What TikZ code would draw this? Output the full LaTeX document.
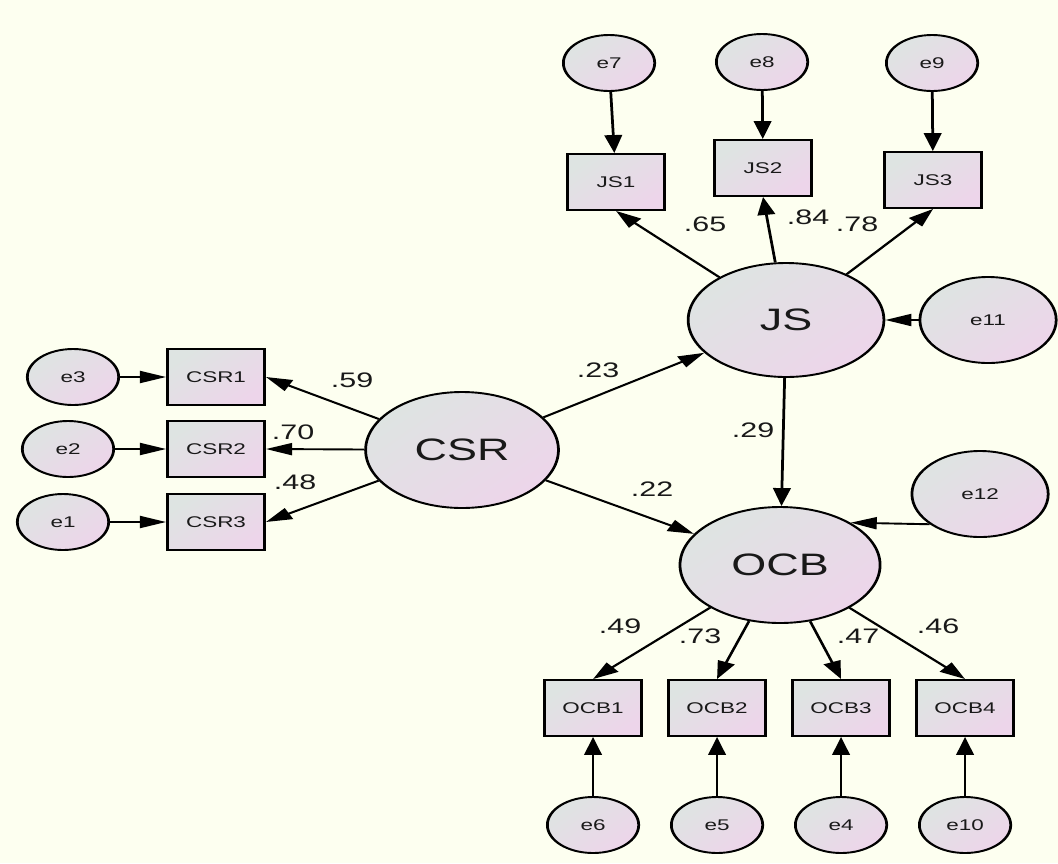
\documentclass[tikz,border=0pt]{standalone}
\usepackage{fontspec}
\setmainfont{Liberation Sans}
\usetikzlibrary{arrows.meta,shapes.geometric}
\definecolor{paper}{RGB}{253,255,240}
\definecolor{shadeA}{RGB}{222,228,226}
\definecolor{shadeB}{RGB}{237,213,234}
\definecolor{ink}{RGB}{25,25,25}
\begin{document}
\begin{tikzpicture}[x=1pt, y=-1pt, line width=1.9pt, >={Triangle[length=18pt,width=12pt]},
  shaded/.style = {draw, top color=shadeA, bottom color=shadeB, shading angle=45, text=ink, inner sep=0pt},
  err/.style = {shaded, ellipse, minimum width=63pt, minimum height=56pt, font=\fontsize{15.5}{16}\selectfont},
  bigerr/.style = {err, minimum width=94pt, minimum height=86pt},
  obs/.style = {shaded, rectangle, minimum width=67pt, minimum height=56pt, font=\fontsize{15.5}{16}\selectfont},
  lat/.style = {shaded, ellipse, minimum width=133pt, minimum height=116pt, font=\fontsize{31}{32}\selectfont},
  num/.style = {text=ink, inner sep=0pt, font=\fontsize{21}{22}\selectfont}]
\fill[paper] (0,0) rectangle (1058,863);
\useasboundingbox (0,0) rectangle (1058,863);
\begin{scope}[transform canvas={xscale=1.45}, x=0.6897pt]
% latent variables
\node[lat] (CSR) at (462,450) {CSR};
\node[lat, minimum width=135pt, minimum height=114pt] (JS) at (786,320) {JS};
\node[lat, minimum width=138pt] (OCB) at (780,565) {OCB};
% indicators
\node[obs] (CSR1) at (216,377) {CSR1};
\node[obs] (CSR2) at (216,449) {CSR2};
\node[obs] (CSR3) at (216,522) {CSR3};
\node[obs] (JS1) at (616,182) {JS1};
\node[obs] (JS2) at (763,168) {JS2};
\node[obs] (JS3) at (933,180) {JS3};
\node[obs] (OCB1) at (593,708) {OCB1};
\node[obs] (OCB2) at (717,708) {OCB2};
\node[obs] (OCB3) at (841,708) {OCB3};
\node[obs] (OCB4) at (965,708) {OCB4};
% errors
\node[err] (e3) at (73,377) {e3};
\node[err] (e2) at (68,449) {e2};
\node[err] (e1) at (63,522) {e1};
\node[err] (e7) at (609,63) {e7};
\node[err] (e8) at (762,62) {e8};
\node[err] (e9) at (932,63) {e9};
\node[err] (e6) at (593,825) {e6};
\node[err] (e5) at (717,825) {e5};
\node[err] (e4) at (841,825) {e4};
\node[err] (e10) at (965,825) {e10};
\node[bigerr] (e11) at (988,320) {e11};
\node[bigerr] (e12) at (980,494) {e12};
% paths
\draw[->] (CSR) -- (CSR1.east);
\draw[->] (CSR) -- (CSR2.east);
\draw[->] (CSR) -- (CSR3.east);
\draw[->] (e3) -- (CSR1);
\draw[->] (e2) -- (CSR2);
\draw[->] (e1) -- (CSR3);
\draw[->] (JS) -- (JS1.south);
\draw[->] (JS) -- (JS2.south);
\draw[->] (JS) -- (JS3.south);
\draw[->] (e7) -- (JS1);
\draw[->] (e8) -- (JS2);
\draw[->] (e9) -- (JS3);
\draw[->] (e11) -- (JS);
\draw[->] (CSR) -- (JS);
\draw[->] (CSR) -- (OCB);
\draw[->] (JS) -- (OCB);
\draw[->] (e12.221) -- (OCB.41);
\draw[->] (OCB) -- (OCB1.north);
\draw[->] (OCB) -- (OCB2.north);
\draw[->] (OCB) -- (OCB3.north);
\draw[->] (OCB) -- (OCB4.north);
\draw[->] (e6) -- (OCB1);
\draw[->] (e5) -- (OCB2);
\draw[->] (e4) -- (OCB3);
\draw[->] (e10) -- (OCB4);
% estimates
\node[num] (w1) at (352,380) {.59};
\node[num] (w2) at (293,432) {.70};
\node[num] (w3) at (295,482) {.48};
\node[num] (w4) at (705,224) {.65};
\node[num] (w5) at (808,217) {.84};
\node[num] (w6) at (857,224) {.78};
\node[num] (w7) at (598,370) {.23};
\node[num] (w8) at (652,489) {.22};
\node[num] (w9) at (753,430) {.29};
\node[num] (w10) at (620,626) {.49};
\node[num] (w11) at (700,636) {.73};
\node[num] (w12) at (858,636) {.47};
\node[num] (w13) at (938,626) {.46};
\end{scope}
\end{tikzpicture}
\end{document}
